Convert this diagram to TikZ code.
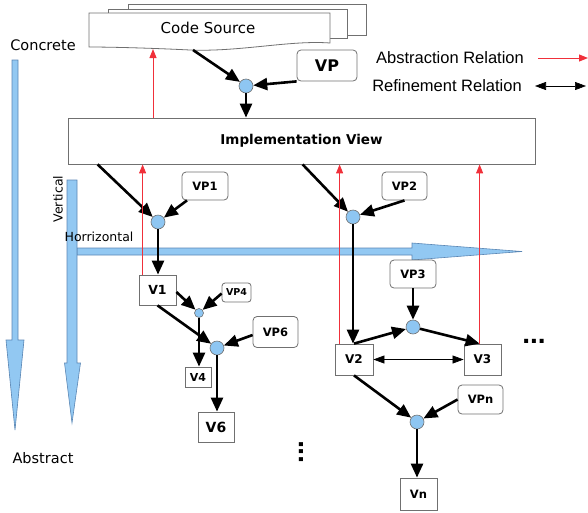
\documentclass[tikz,border=0pt]{standalone}
\usepackage{fontspec}
\setmainfont{Liberation Sans}
\newfontfamily\comic{DejaVu Sans}
\usetikzlibrary{arrows.meta}
\definecolor{dotblue}{HTML}{8EC6F2}
\definecolor{barblue}{HTML}{92C8F2}
\definecolor{barline}{HTML}{5A86B4}
\definecolor{boxline}{HTML}{707070}
\definecolor{absred}{HTML}{F0303A}
\newcommand{\fsz}[1]{\fontsize{#1}{#1}\selectfont}
\begin{document}
\begin{tikzpicture}[x=1pt,y=-1pt,
  box/.style={draw=boxline, fill=white, line width=0.8pt, inner sep=0pt, font=\comic\bfseries},
  vpbox/.style={box, rounded corners=4pt},
  joint/.style={circle, draw=boxline, fill=dotblue, line width=0.6pt, minimum size=14pt, inner sep=0pt},
  smalljoint/.style={joint, minimum size=9pt},
  flow/.style={line width=2.6pt, -{Triangle[length=14pt,width=12pt]}},
  absrel/.style={absred, line width=1pt, -{Triangle[length=9pt,width=7pt]}},
  refrel/.style={black, line width=0.6pt, {Triangle[length=11pt,width=8pt]}-{Triangle[length=11pt,width=8pt]}},
  bar/.style={draw=barline, fill=barblue, line width=0.6pt, line join=miter},
  lbl/.style={inner sep=0pt, font=\comic}
]
\useasboundingbox (0,0) rectangle (588,512);

% ---- code source stack ----
\draw[draw=boxline, fill=white, line width=0.8pt] (128,4) rectangle (366,35);
\draw[draw=boxline, fill=white, line width=0.8pt] (108,9) rectangle (347,38);
\draw[draw=boxline, fill=white, line width=0.8pt] (89,13) -- (330,13) -- (330,43)
  .. controls (290,40) and (240,52) .. (190,50)
  .. controls (150,48) and (110,47) .. (89,47) -- cycle;
\node[lbl, font=\comic\fsz{15}] (cs) at (208,28) {Code Source};
\coordinate (csa) at (193,50);
\coordinate (csb) at (153,49);

% ---- VP and top joint ----
\node[vpbox, font=\comic\bfseries\fsz{16}, minimum width=60pt, minimum height=31pt] (vp) at (327,65.5) {VP};
\node[joint] (c0) at (246,86) {};

% ---- legend ----
\node[inner sep=0pt, font=\fsz{16.5}] (la) at (450,58) {Abstraction Relation};
\node[inner sep=0pt, font=\fsz{16.5}] (lr) at (447,86) {Refinement Relation};
\coordinate (la1) at (538,58); \coordinate (la2) at (588,58);
\coordinate (lr1) at (535,86); \coordinate (lr2) at (586,86);
\draw[absrel] (la1) -- (la2);
\draw[refrel] (lr1) -- (lr2);

% ---- implementation view ----
\node[box, font=\comic\bfseries\fsz{13.5}, minimum width=467pt, minimum height=46pt] (impl) at (301.5,141) {Implementation View};

% ---- blue axes ----
\draw[bar] (12,60) -- (18,60) -- (18,340) -- (24,340) -- (15,430) -- (6,340) -- (12,340) -- cycle;
\draw[bar] (77,248) -- (412,248) -- (412,243) -- (522,251.5) -- (412,260) -- (412,255) -- (77,255) -- cycle;
\draw[bar] (67,180) -- (77,180) -- (77,363) -- (80.5,363) -- (72,423) -- (64.5,363) -- (67,363) -- cycle;
\node[lbl, font=\comic\fsz{14.5}] (concrete) at (43,45) {Concrete};
\node[lbl, font=\comic\fsz{14.5}] (abstract) at (43,458) {Abstract};
\node[lbl, font=\comic\fsz{12.5}, rotate=90] (vert) at (58,199) {Vertical};
\node[lbl, font=\comic\fsz{12.5}] (horiz) at (99,237) {Horrizontal};

% ---- left branch ----
\node[vpbox, font=\comic\bfseries\fsz{11.5}, minimum width=46pt, minimum height=28pt] (vp1) at (205,186) {VP1};
\node[joint] (c1) at (158,222) {};
\node[box, font=\comic\bfseries\fsz{12.5}, minimum width=37pt, minimum height=30pt] (v1) at (157.5,290) {V1};
\node[vpbox, font=\comic\bfseries\fsz{9.5}, minimum width=29pt, minimum height=19pt, rounded corners=3pt] (vp4) at (236.5,292.5) {VP4};
\node[smalljoint] (c4) at (199,313) {};
\node[box, font=\comic\bfseries\fsz{11}, minimum width=26pt, minimum height=20pt] (v4) at (198,377) {V4};
\node[vpbox, font=\comic\bfseries\fsz{11.5}, minimum width=45pt, minimum height=31pt] (vp6) at (275.5,332) {VP6};
\node[joint] (c6) at (217,348) {};
\node[box, font=\comic\bfseries\fsz{14}, minimum width=36pt, minimum height=30pt] (v6) at (216,427) {V6};
\node[lbl, font=\bfseries\fsz{28}, rotate=90] (vdots) at (301,452) {...};

% ---- right branch ----
\node[vpbox, font=\comic\bfseries\fsz{11.5}, minimum width=45pt, minimum height=28pt] (vp2) at (404.5,186) {VP2};
\node[joint] (c2) at (353,217) {};
\node[vpbox, font=\comic\bfseries\fsz{11.5}, minimum width=46pt, minimum height=28pt] (vp3) at (413,274) {VP3};
\node[joint] (c3) at (413,327) {};
\node[box, font=\comic\bfseries\fsz{12}, minimum width=38pt, minimum height=31pt] (v2) at (354,359.5) {V2};
\node[box, font=\comic\bfseries\fsz{12}, minimum width=37pt, minimum height=31pt] (v3) at (482.5,359.5) {V3};
\node[lbl, font=\bfseries\fsz{28}] (hdots) at (534,341) {...};
\node[vpbox, font=\comic\bfseries\fsz{11.5}, minimum width=45pt, minimum height=29pt] (vpn) at (480.5,399.5) {VPn};
\node[joint] (cn) at (417,422) {};
\node[box, font=\comic\bfseries\fsz{11.5}, minimum width=37pt, minimum height=32pt] (vn) at (418.5,494) {Vn};

% ---- flow arrows ----
\draw[flow] (csa) -- (c0);
\draw[flow] (vp.south west) -- (c0);
\draw[flow] (c0) -- (c0 |- impl.north);

\draw[flow] ([xshift=30pt]impl.south west) -- (c1);
\draw[flow] ([xshift=-18pt]vp1.south) -- (c1);
\draw[flow] (c1) -- (c1 |- v1.north);
\draw[flow] ([yshift=-2pt]v1.east) -- (c4);
\draw[flow] ([yshift=-1pt]vp4.west) -- (c4);
\draw[flow] (c4) -- (c4 |- v4.north);
\draw[flow] (v1.south) -- (c6);
\draw[flow] ([yshift=-3pt]vp6.west) -- (c6);
\draw[flow] (c6) -- (c6 |- v6.north);

\draw[flow] ([xshift=235pt]impl.south west) -- (c2);
\draw[flow] ([xshift=0pt]vp2.south) -- (c2);
\draw[flow] (c2) -- (c2 |- v2.north);
\draw[flow] (vp3.south) -- (c3);
\draw[flow] (v2.north) -- (c3);
\draw[flow] (c3) -- ([xshift=16pt]v3.north west);
\draw[refrel] (v2.east) -- (v3.west);
\draw[flow] (v2.south) -- (cn);
\draw[flow] (vpn.west) -- (cn);
\draw[flow] (cn) -- (cn |- vn.north);

% ---- abstraction relations ----
\draw[absrel] (csb |- impl.north) -- (csb);
\draw[absrel] ([xshift=4pt]v1.north west) -- ([xshift=4pt]v1.north west |- impl.south);
\draw[absrel] ([xshift=5pt]v2.north west) -- ([xshift=5pt]v2.north west |- impl.south);
\draw[absrel] ([xshift=16pt]v3.north west) -- ([xshift=16pt]v3.north west |- impl.south);
\end{tikzpicture}
\end{document}
